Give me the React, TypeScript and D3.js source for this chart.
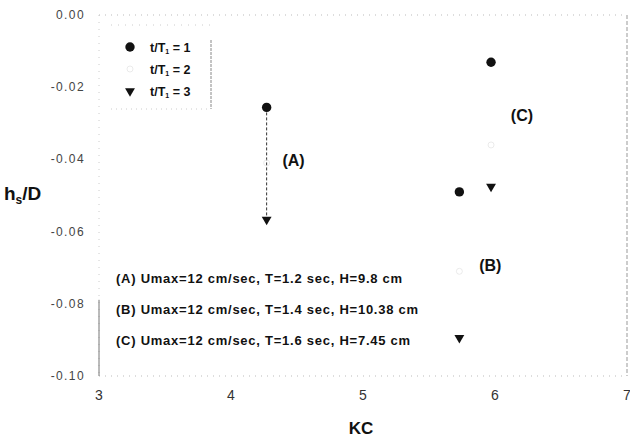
import React from "react";
import * as d3 from "d3";

const cases = ["(A)", "(B)", "(C)"];
const kcValues = [4.27, 5.73, 5.97];
const hsT1 = [-0.0256, -0.049, -0.0131];
const hsT2 = [-0.041, -0.071, -0.036];
const hsT3 = [-0.0567, -0.0894, -0.0475];
const xTicks = [3, 4, 5, 6, 7];
const yTicks = [0, -0.02, -0.04, -0.06, -0.08, -0.1];
const legendLabels = ["1", "2", "3"];
const notes = [
  "(A) Umax=12 cm/sec, T=1.2 sec, H=9.8 cm",
  "(B) Umax=12 cm/sec, T=1.4 sec, H=10.38 cm",
  "(C) Umax=12 cm/sec, T=1.6 sec, H=7.45 cm",
];
const caseLabelPos = [
  { kc: 4.39, hs: -0.0417 },
  { kc: 5.88, hs: -0.0708 },
  { kc: 6.12, hs: -0.0294 },
];

const W = 630, H = 441;
const x = d3.scaleLinear().domain([3, 7]).range([99, 627]);
const y = d3.scaleLinear().domain([0, -0.1]).range([15, 376]);
const font = "'Liberation Sans', Arial, sans-serif";
const tri = d3.symbol().type(d3.symbolTriangle).size(42);

function Triangle({ cx, cy }: { cx: number; cy: number }) {
  return <path d={tri() as string} transform={`translate(${cx},${cy}) rotate(180)`} fill="#111" />;
}

export default function App() {
  const [x0, x1] = x.range();
  const [y0, y1] = y.range();
  return (
    <svg width={W} height={H} style={{ position: "absolute", left: 0, top: 0, background: "#fff" }} fontFamily={font}>
      {/* frame (faint, as in the scan) */}
      <line x1={x0} x2={x1} y1={y0} y2={y0} stroke="#bbb" strokeDasharray="1,5" />
      <line x1={x0} x2={x1} y1={y1} y2={y1} stroke="#bbb" strokeDasharray="1,5" />
      <line x1={x1} x2={x1} y1={y0} y2={y1} stroke="#999" strokeDasharray="4,2" />
      <line x1={x0} x2={x0} y1={y0} y2={y1} stroke="#ccc" strokeDasharray="1,6" />
      <line x1={x0} x2={x0} y1={y(-0.08) - 4} y2={y1} stroke="#777" />
      {xTicks.map((t) => (
        <text key={t} x={x(t)} y={y1 + 24} textAnchor="middle" fontSize={14} fill="#333">{t}</text>
      ))}
      {yTicks.map((t) => (
        <text key={t} x={x0 - 14} y={y(t) + 4} textAnchor="end" fontSize={12} letterSpacing={1.4} fill="#444">{t.toFixed(2)}</text>
      ))}
      <text x={4} y={200} fontSize={19} fontWeight="bold" fill="#111">h<tspan fontSize={12} dy={4}>s</tspan><tspan dy={-4}>/D</tspan></text>
      <text x={361} y={434} textAnchor="middle" fontSize={17} fontWeight="bold" fill="#111">KC</text>

      {/* legend */}
      <g>
        <line x1={111} x2={211} y1={25} y2={25} stroke="#ccc" strokeDasharray="1,6" />
        <line x1={111} x2={211} y1={109} y2={109} stroke="#ccc" strokeDasharray="1,4" />
        <line x1={211} x2={211} y1={40} y2={109} stroke="#888" strokeDasharray="3,1" />
        {legendLabels.map((l, i) => {
          const ly = 47 + i * 22;
          return (
            <g key={l}>
              {i === 0 && <circle cx={130} cy={ly} r={4.7} fill="#111" />}
              {i === 1 && <circle cx={130} cy={ly} r={3} fill="none" stroke="#ddd" strokeWidth={0.6} />}
              {i === 2 && <Triangle cx={130} cy={ly} />}
              <text x={150} y={ly + 5} fontSize={12.5} fontWeight="bold" fill="#111">
                t/T<tspan fontSize={7} dy={2}>1</tspan><tspan dy={-2}> = {l}</tspan>
              </text>
            </g>
          );
        })}
      </g>

      {/* arrow line for case A */}
      <line x1={x(kcValues[0])} x2={x(kcValues[0])} y1={y(hsT1[0]) + 5} y2={y(hsT3[0]) - 4} stroke="#333" strokeDasharray="3,2" />

      {kcValues.map((k, i) => (
        <g key={cases[i]}>
          <circle cx={x(k)} cy={y(hsT1[i])} r={4.7} fill="#111" />
          <circle cx={x(k)} cy={y(hsT2[i])} r={3} fill="none" stroke="#ddd" strokeWidth={0.6} />
          <Triangle cx={x(k)} cy={y(hsT3[i])} />
          <text x={x(caseLabelPos[i].kc)} y={y(caseLabelPos[i].hs)} fontSize={16} fontWeight="bold" fill="#111">{cases[i]}</text>
        </g>
      ))}

      {notes.map((n, i) => (
        <text key={n} x={116} y={283 + i * 31} fontSize={13} letterSpacing={0.75} fontWeight="bold" fill="#111">{n}</text>
      ))}
    </svg>
  );
}
